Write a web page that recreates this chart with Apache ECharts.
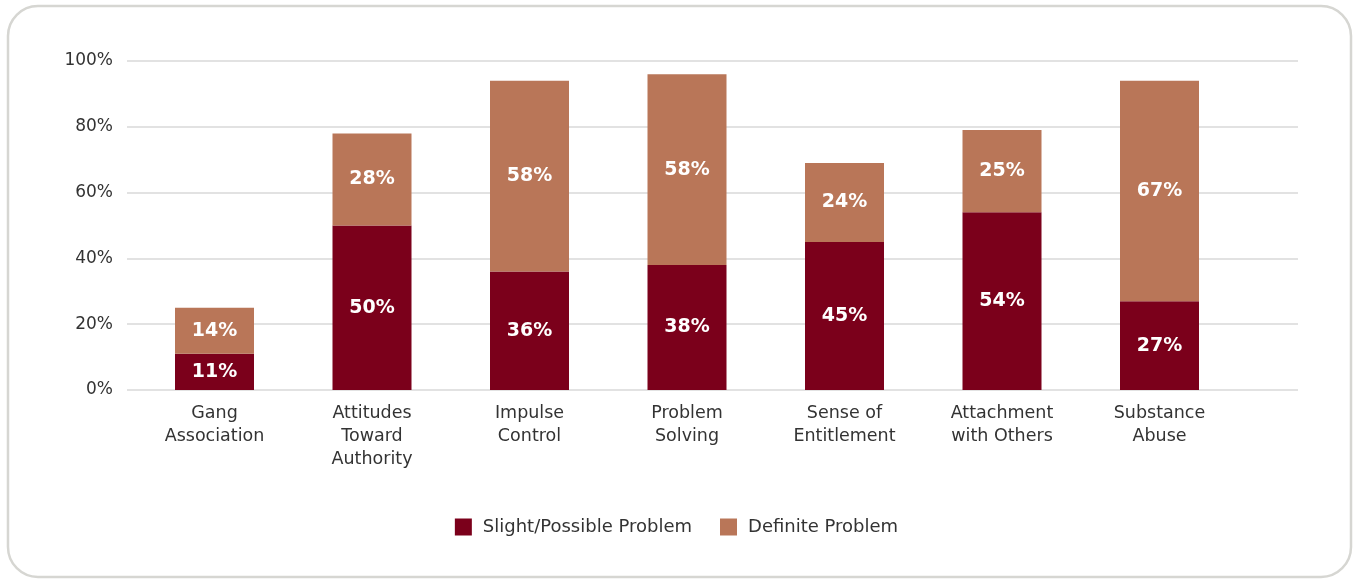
<!DOCTYPE html>
<html><head><meta charset="utf-8">
<script src="https://cdn.jsdelivr.net/npm/echarts@6/dist/echarts.min.js"></script>
<style>html,body{margin:0;padding:0;background:#fff}#c{width:1353px;height:579px}</style>
</head><body><div id="c"></div>
<script>
const categories = ['Gang\nAssociation','Attitudes\nToward\nAuthority','Impulse\nControl','Problem\nSolving','Sense of\nEntitlement','Attachment\nwith Others','Substance\nAbuse'];
const slight = [11, 50, 36, 38, 45, 54, 27];
const definite = [14, 28, 58, 58, 24, 25, 67];
const seriesNames = ['Slight/Possible Problem', 'Definite Problem'];
const colors = ['#7B001B', '#B97658'];
const FONT = 'DejaVu Sans';

const chart = echarts.init(document.getElementById('c'));
const labelStyle = {show: true, position: 'inside', color: '#fff', fontWeight: 'bold', fontSize: 19, fontFamily: FONT, formatter: p => p.value + '%'};
chart.setOption({
  animation: false,
  textStyle: {fontFamily: FONT},
  graphic: [{type: 'rect', shape: {x: 8, y: 6, width: 1343, height: 571, r: 30}, style: {fill: 'none', stroke: '#d6d6d2', lineWidth: 2.5}, z: -10}],
  grid: [
    {left: 127, top: 61, width: 1171, height: 329},
    {left: 135.75, top: 61, width: 1102.5, height: 329}
  ],
  legend: {
    data: seriesNames, bottom: 38, left: 'center', itemWidth: 17, itemHeight: 17, itemGap: 28,
    icon: 'rect', textStyle: {fontSize: 18, color: '#333', fontFamily: FONT, padding: [0, 0, 0, 6]}
  },
  xAxis: [
    {type: 'category', gridIndex: 0, data: categories, show: false},
    {type: 'category', gridIndex: 1, data: categories, axisLine: {show: false}, axisTick: {show: false},
     axisLabel: {fontSize: 17.5, color: '#333', lineHeight: 23, margin: 12, fontFamily: FONT, interval: 0}}
  ],
  yAxis: [
    {type: 'value', gridIndex: 0, min: 0, max: 100, interval: 20,
     axisLabel: {formatter: '{value}%', fontSize: 17, color: '#333', margin: 14, fontFamily: FONT},
     splitLine: {lineStyle: {color: '#d9d9d9', width: 1.5}}, axisLine: {show: false}, axisTick: {show: false}},
    {type: 'value', gridIndex: 1, min: 0, max: 100, interval: 20, show: false, splitLine: {show: false}}
  ],
  series: [
    {name: seriesNames[0], type: 'bar', stack: 's', xAxisIndex: 1, yAxisIndex: 1, data: slight, barWidth: 79, itemStyle: {color: colors[0]}, label: labelStyle},
    {name: seriesNames[1], type: 'bar', stack: 's', xAxisIndex: 1, yAxisIndex: 1, data: definite, barWidth: 79, itemStyle: {color: colors[1]}, label: labelStyle}
  ]
});
</script></body></html>
